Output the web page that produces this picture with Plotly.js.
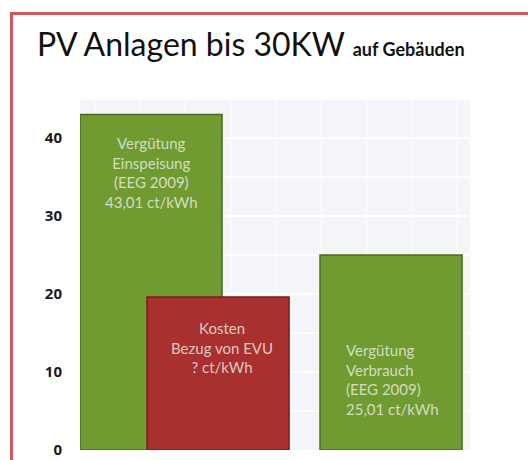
<!DOCTYPE html>
<html>
<head>
<meta charset="utf-8">
<script src="https://cdn.plot.ly/plotly-3.0.1.min.js"></script>
<style>
  html, body { margin: 0; padding: 0; background: #ffffff; }
  #wrap { position: relative; width: 528px; height: 460px; overflow: hidden; }
  #chart { width: 528px; height: 460px; }
  #frame { position: absolute; left: 10px; top: 12px; width: 700px; height: 700px;
           border-left: 3px solid #d0585a; border-top: 3px solid #d0585a; pointer-events: none; }
</style>
</head>
<body>
<div id="wrap">
  <div id="chart"></div>
  <div id="frame"></div>
</div>
<script>
// ---- data ----
const categories = ["Vergütung Einspeisung", "Kosten Bezug von EVU", "Vergütung Verbrauch"];
const values = [43.01, 19.6, 25.01];
const barLabels = [
  "Vergütung<br>Einspeisung<br>(EEG 2009)<br>43,01 ct/kWh",
  "Kosten<br>Bezug von EVU<br>? ct/kWh",
  "Vergütung<br>Verbrauch<br>(EEG 2009)<br>25,01 ct/kWh"
];
const yTicks = [0, 10, 20, 30, 40];
const yTickLabels = ["0", "10", "20", "30", "40"];

// ---- layout configuration (positions / styles) ----
const barPos = [0.5, 0.972, 2.19];
const labelY = [35.6, 13.2, 9.0];
const labelDx = [0, 0.03, -0.331];
const labelAnchor = ["center", "center", "left"];
const labelAlign = ["center", "center", "left"];
const green = "#6f9b30", greenLine = "#4b6a1f";
const red = "#a8302f", redLine = "#7a1d1d";

const greenIdx = [0, 2], redIdx = [1];
const traces = [
  {
    type: "bar", name: "Vergütung",
    x: greenIdx.map(i => barPos[i]), y: greenIdx.map(i => values[i]),
    customdata: greenIdx.map(i => categories[i]),
    width: 1, marker: { color: green, line: { color: greenLine, width: 1.5 } },
    hovertemplate: "%{customdata}: %{y}<extra></extra>"
  },
  {
    type: "bar", name: "Kosten",
    x: redIdx.map(i => barPos[i]), y: redIdx.map(i => values[i]),
    customdata: redIdx.map(i => categories[i]),
    width: 1, marker: { color: red, line: { color: redLine, width: 1.5 } },
    hovertemplate: "%{customdata}: %{y}<extra></extra>"
  }
];

const annotations = barLabels.map((t, i) => ({
  x: barPos[i] + labelDx[i], y: labelY[i], xref: "x", yref: "y",
  text: t, showarrow: false, align: labelAlign[i],
  xanchor: labelAnchor[i], yanchor: "middle",
  font: { family: "Lato, 'Open Sans', sans-serif", size: 15, color: "rgba(236,236,228,0.82)" }
}));

const layout = {
  width: 528, height: 460,
  margin: { l: 80, r: 58, t: 100, b: 10 },
  paper_bgcolor: "#ffffff",
  plot_bgcolor: "#f3f5f8",
  showlegend: false,
  barmode: "overlay",
  title: {
    text: "PV Anlagen bis 30KW <b><span style='font-size:18px'>auf Gebäuden</span></b>",
    xref: "container", yref: "container",
    x: 37 / 528, xanchor: "left", y: 1 - 45 / 460, yanchor: "middle",
    font: { family: "Lato, 'Open Sans', sans-serif", size: 32, color: "#111111" }
  },
  xaxis: {
    range: [0, 2.746], showticklabels: false, zeroline: false,
    showgrid: true, dtick: 0.32, tick0: 0.1, gridcolor: "#ffffff", gridwidth: 1,
    showline: false, fixedrange: true
  },
  yaxis: {
    range: [0, 44.87], tickvals: yTicks, ticktext: yTickLabels,
    showgrid: false, zeroline: false, showline: false,
    ticklabelstandoff: 17,
    tickfont: { family: "'Open Sans', Lato, sans-serif", size: 15, color: "#1a1a1a", weight: "bold" },
    minor: { dtick: 5, showgrid: true, gridcolor: "#ffffff", gridwidth: 2 },
    fixedrange: true
  },
  annotations: annotations
};

Plotly.newPlot("chart", traces, layout, { displayModeBar: false, staticPlot: false });
</script>
</body>
</html>
